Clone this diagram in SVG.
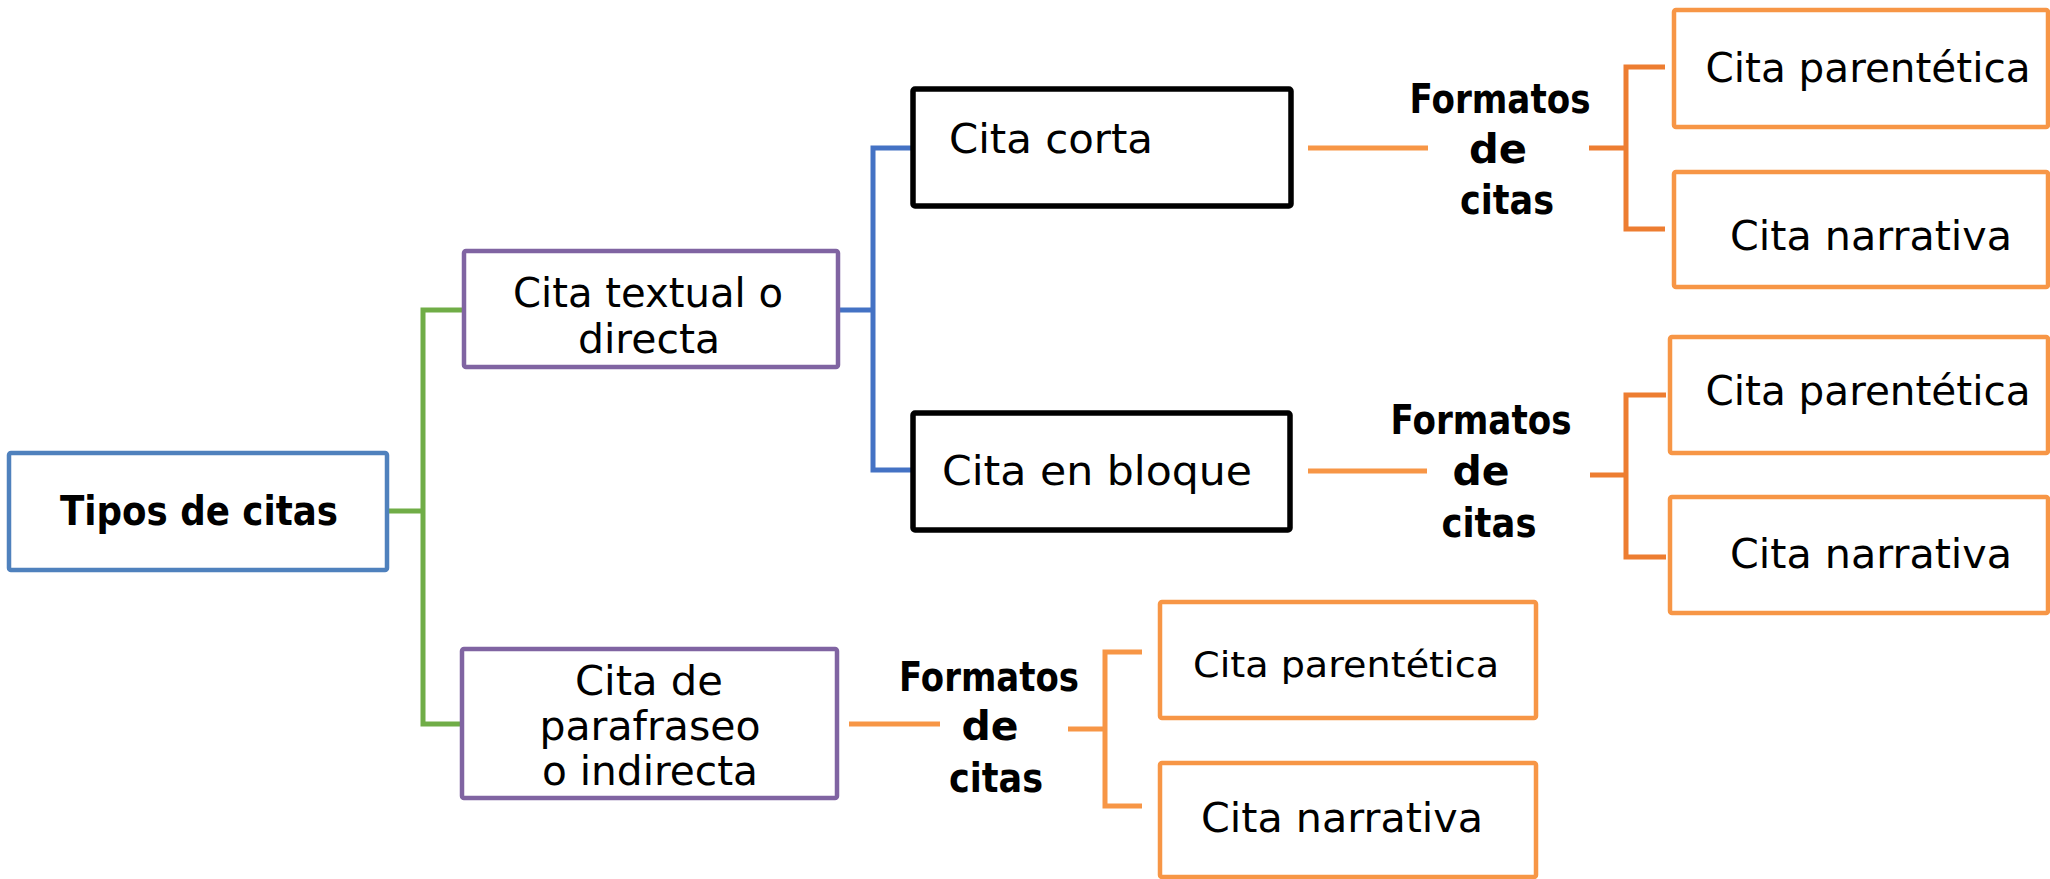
<svg xmlns="http://www.w3.org/2000/svg" width="2050" height="879" viewBox="0 0 2050 879">
<style>
.box{fill:#fff;stroke-width:4.5}
.blue{stroke:#4F81BD}
.purple{stroke:#8064A2}
.black{stroke:#000;stroke-width:5.5}
.orange{stroke:#F79646}
.t{font-family:"DejaVu Sans","Liberation Sans",sans-serif;font-size:41px;fill:#000;text-anchor:middle}
.ts{font-size:35px}
.b{font-weight:bold;font-size:40px}
.lt{text-anchor:start}
.c{fill:none;stroke-width:5;stroke-linejoin:miter}
</style>
<rect width="2050" height="879" fill="#fff"/>
<g id="connectors">
<path class="c" stroke="#70AD47" d="M387,511 H423 M462,310 H423 V724 H462"/>
<path class="c" stroke="#4472C4" d="M838,310 H873 M913,148 H873 V470 H913"/>
<path class="c" stroke="#F79646" d="M1308,148 H1428"/>
<path class="c" stroke="#ED7D31" d="M1589,148 H1626 M1665,67 H1626 V229 H1665"/>
<path class="c" stroke="#F79646" d="M1308,471 H1427"/>
<path class="c" stroke="#ED7D31" d="M1590,475 H1626 M1666,395 H1626 V557 H1666"/>
<path class="c" stroke="#F79646" d="M849,724 H940"/>
<path class="c" stroke="#F79646" d="M1068,729 H1105 M1142,652 H1105 V806 H1142"/>
</g>
<g id="n-tipos">
<rect class="box blue" x="9" y="453" width="378" height="117" rx="2"/>
<text class="t b" x="199" y="525" textLength="278" lengthAdjust="spacingAndGlyphs">Tipos de citas</text>
</g>
<g id="n-textual">
<rect class="box purple" x="464" y="251" width="374" height="116" rx="2"/>
<text class="t" x="648" y="307" textLength="270" lengthAdjust="spacingAndGlyphs">Cita textual o</text>
<text class="t" x="649" y="353" textLength="142" lengthAdjust="spacingAndGlyphs">directa</text>
</g>
<g id="n-parafraseo">
<rect class="box purple" x="462" y="649" width="375" height="149" rx="2"/>
<text class="t" x="649" y="695" textLength="148" lengthAdjust="spacingAndGlyphs">Cita de</text>
<text class="t" x="650" y="740" textLength="221" lengthAdjust="spacingAndGlyphs">parafraseo</text>
<text class="t" x="650" y="785" textLength="216" lengthAdjust="spacingAndGlyphs">o indirecta</text>
</g>
<g id="n-corta">
<rect class="box black" x="913" y="89" width="378" height="117" rx="2"/>
<text class="t lt" x="949" y="153" textLength="204" lengthAdjust="spacingAndGlyphs">Cita corta</text>
</g>
<g id="n-bloque">
<rect class="box black" x="913" y="413" width="377" height="117" rx="2"/>
<text class="t" x="1097" y="485" textLength="310" lengthAdjust="spacingAndGlyphs">Cita en bloque</text>
</g>
<g id="n-formatos1">
<text class="t b" x="1500" y="113" textLength="181" lengthAdjust="spacingAndGlyphs">Formatos</text>
<text class="t b" x="1498" y="163" textLength="58" lengthAdjust="spacingAndGlyphs">de</text>
<text class="t b" x="1507" y="214" textLength="94" lengthAdjust="spacingAndGlyphs">citas</text>
</g>
<g id="n-formatos2">
<text class="t b" x="1481" y="434" textLength="181" lengthAdjust="spacingAndGlyphs">Formatos</text>
<text class="t b" x="1481" y="485" textLength="57" lengthAdjust="spacingAndGlyphs">de</text>
<text class="t b" x="1489" y="537" textLength="95" lengthAdjust="spacingAndGlyphs">citas</text>
</g>
<g id="n-formatos3">
<text class="t b" x="989" y="691" textLength="180" lengthAdjust="spacingAndGlyphs">Formatos</text>
<text class="t b" x="990" y="740" textLength="57" lengthAdjust="spacingAndGlyphs">de</text>
<text class="t b" x="996" y="792" textLength="94" lengthAdjust="spacingAndGlyphs">citas</text>
</g>
<g id="n-par1">
<rect class="box orange" x="1674" y="10" width="374" height="117" rx="2"/>
<text class="t" x="1868" y="82" textLength="325" lengthAdjust="spacingAndGlyphs">Cita parentética</text>
</g>
<g id="n-nar1">
<rect class="box orange" x="1674" y="172" width="374" height="115" rx="2"/>
<text class="t" x="1871" y="250" textLength="282" lengthAdjust="spacingAndGlyphs">Cita narrativa</text>
</g>
<g id="n-par2">
<rect class="box orange" x="1670" y="337" width="378" height="116" rx="2"/>
<text class="t" x="1868" y="405" textLength="325" lengthAdjust="spacingAndGlyphs">Cita parentética</text>
</g>
<g id="n-nar2">
<rect class="box orange" x="1670" y="497" width="378" height="116" rx="2"/>
<text class="t" x="1871" y="568" textLength="282" lengthAdjust="spacingAndGlyphs">Cita narrativa</text>
</g>
<g id="n-par3">
<rect class="box orange" x="1160" y="602" width="376" height="116" rx="2"/>
<text class="t ts" x="1346" y="677" textLength="306" lengthAdjust="spacingAndGlyphs">Cita parentética</text>
</g>
<g id="n-nar3">
<rect class="box orange" x="1160" y="763" width="376" height="114" rx="2"/>
<text class="t" x="1342" y="832" textLength="282" lengthAdjust="spacingAndGlyphs">Cita narrativa</text>
</g>
</svg>
